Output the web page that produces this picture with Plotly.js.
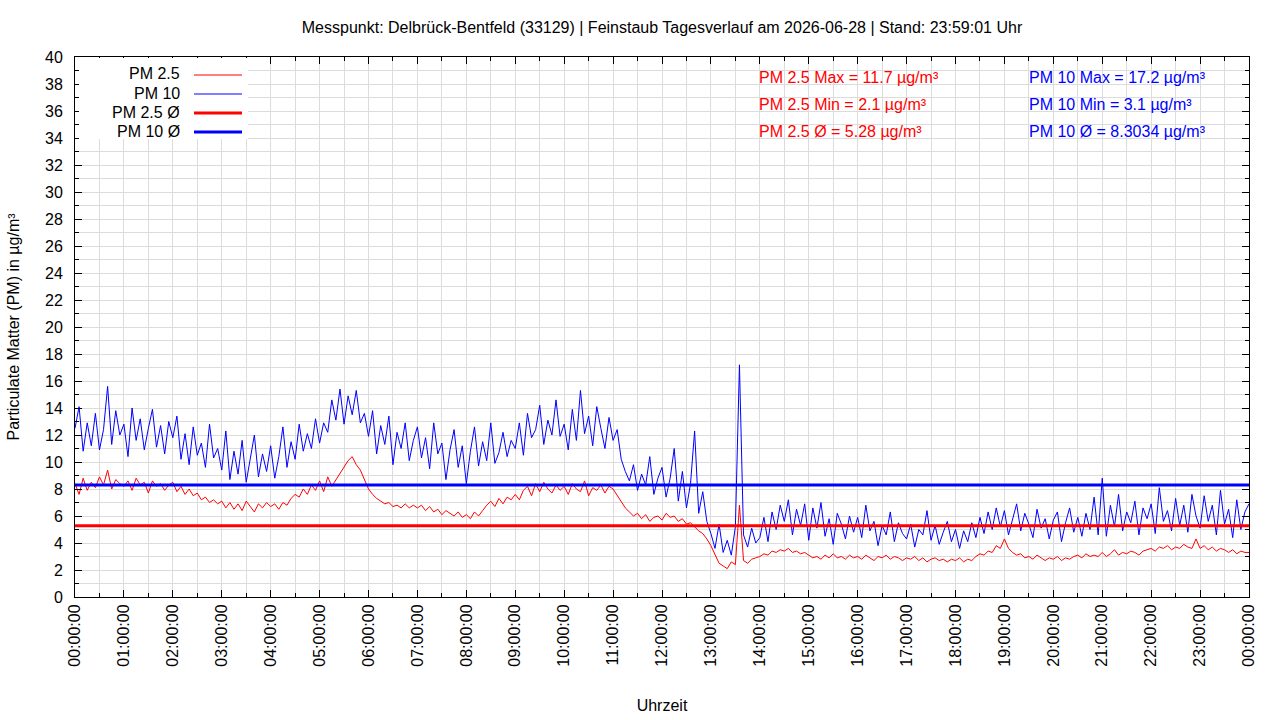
<!DOCTYPE html>
<html>
<head>
<meta charset="utf-8">
<script src="https://cdn.plot.ly/plotly-3.0.1.min.js"></script>
<style>
	html, body { margin: 0; padding: 0; background: #fff; }
	#graph { width: 1280px; height: 720px; }
</style>
</head>
<body>
<div id="graph"></div>
<script>
const DAY = "2026-06-28";
const STEP_MIN = 5;

// PM 2.5, one row per hour, 5-minute values (plus the 24:00 value)
const pm25 = [
	8.4, 7.6, 8.8, 7.9, 8.5, 8.1, 8.9, 8.3, 9.4, 8.0, 8.7, 8.4,
	8.2, 8.6, 7.9, 8.8, 8.3, 8.5, 7.7, 8.6, 8.2, 8.4, 7.9, 8.3,
	8.5, 7.8, 8.2, 7.6, 8.0, 7.5, 7.7, 7.2, 7.4, 7.0, 7.2, 6.9,
	7.1, 6.6, 7.0, 6.5, 6.9, 6.4, 7.1, 6.7, 6.3, 6.9, 6.6, 7.0,
	6.7, 6.9, 6.5, 7.0, 6.8, 7.3, 7.6, 7.4, 8.0, 7.6, 8.3, 7.9,
	8.6, 7.8, 8.9, 8.2, 8.7, 9.1, 9.6, 10.1, 10.4, 9.8, 9.4, 8.7,
	8.0, 7.6, 7.3, 7.1, 6.9, 7.0, 6.7, 6.8, 6.6, 6.9, 6.6, 6.8,
	6.6, 6.8, 6.4, 6.7, 6.3, 6.5, 6.1, 6.4, 6.2, 6.0, 6.3, 5.9,
	6.1, 5.8, 6.3, 6.0, 6.4, 6.8, 7.1, 6.7, 7.3, 6.9, 7.4, 7.2,
	7.6, 7.2, 7.9, 8.2, 7.5, 8.4, 7.8, 8.5, 8.0, 7.7, 8.3, 7.9,
	8.2, 7.6, 8.4, 8.0, 7.8, 8.6, 7.5, 8.1, 7.9, 8.3, 7.7, 8.2,
	8.0, 7.5, 7.1, 6.6, 6.3, 6.0, 6.2, 5.8, 6.1, 5.6, 5.9, 6.0,
	5.7, 6.2, 5.9, 6.0, 5.6, 5.8, 5.4, 5.5, 5.2, 4.9, 4.7, 4.3,
	3.8, 3.1, 2.5, 2.3, 2.1, 2.6, 2.4, 6.8, 2.7, 2.5, 2.8, 2.9,
	3.0, 3.2, 3.1, 3.4, 3.3, 3.5, 3.4, 3.6, 3.3, 3.4, 3.2, 3.3,
	3.1, 2.9, 3.0, 2.8, 3.1, 2.9, 3.2, 2.9, 3.0, 2.8, 3.1, 2.9,
	3.0, 2.8, 3.1, 2.9, 2.7, 3.0, 2.9, 3.1, 2.8, 3.0, 2.9, 2.7,
	2.9, 2.8, 3.0, 2.7, 2.9, 2.6, 2.8, 2.9, 2.7, 2.8, 2.6, 2.8,
	2.7, 2.9, 2.6, 2.8, 2.7, 3.0, 3.2, 3.1, 3.4, 3.3, 3.8, 3.6,
	4.3, 3.6, 3.3, 3.1, 3.2, 2.9, 3.0, 2.8, 3.1, 2.9, 2.7, 2.9,
	2.8, 3.0, 2.7, 2.9, 2.8, 3.0, 3.1, 2.9, 3.2, 3.0, 3.1, 3.0,
	3.3, 3.0, 3.2, 3.5, 3.1, 3.3, 3.2, 3.4, 3.3, 3.1, 3.4, 3.5,
	3.6, 3.4, 3.7, 3.6, 3.8, 3.5, 3.7, 3.6, 3.9, 3.7, 3.6, 4.3,
	3.6, 3.8, 3.5, 3.7, 3.4, 3.6, 3.5, 3.3, 3.5, 3.2, 3.4, 3.3,
	3.3,
];

// PM 10, same layout
const pm10 = [
	12.5, 14.1, 10.8, 12.9, 11.2, 13.6, 10.9, 12.4, 15.6, 11.3, 13.8, 12.0,
	12.8, 10.4, 14.0, 11.6, 13.2, 10.9, 12.5, 13.9, 11.1, 12.7, 10.6, 13.0,
	11.8, 13.4, 10.2, 12.1, 9.8, 12.6, 10.5, 11.4, 9.6, 12.8, 10.3, 11.0,
	9.4, 12.3, 8.7, 10.8, 9.1, 11.6, 8.5, 10.2, 12.0, 8.9, 10.6, 9.3,
	11.2, 8.8, 10.4, 12.6, 9.6, 11.5, 10.2, 12.8, 10.8, 12.1, 11.0, 13.2,
	11.4, 12.9, 12.2, 14.6, 13.1, 15.4, 12.8, 14.9, 13.5, 15.3, 12.9, 13.6,
	11.9, 13.8, 10.6, 12.7, 11.3, 13.4, 9.8, 12.2, 11.0, 12.9, 10.1, 11.6,
	12.6, 10.3, 11.8, 9.5, 12.9, 10.6, 11.4, 8.7, 10.9, 12.4, 9.6, 11.2,
	8.4, 10.8, 12.6, 9.7, 11.5, 10.1, 12.9, 9.9, 10.7, 12.2, 10.4, 11.6,
	11.0, 12.9, 10.5, 13.6, 11.8, 12.4, 14.2, 11.3, 13.1, 12.0, 14.6, 11.9,
	12.8, 10.9, 13.9, 11.6, 15.3, 12.1, 13.4, 11.2, 14.1, 12.5, 11.0, 13.3,
	11.6, 12.4, 10.2, 9.3, 8.6, 9.8, 7.9, 9.1, 8.3, 10.4, 7.6, 8.8,
	9.6, 7.4, 8.8, 11.0, 7.1, 9.3, 6.6, 8.4, 12.3, 6.2, 7.8, 5.6,
	4.7, 3.6, 5.4, 3.3, 4.2, 3.1, 5.2, 17.2, 4.6, 3.7, 5.1, 4.0,
	4.4, 5.9, 4.1, 6.3, 5.0, 6.8, 5.6, 7.2, 4.6, 6.5, 5.3, 6.9,
	4.2, 6.6, 5.1, 7.0, 4.5, 5.8, 3.9, 6.2, 5.4, 4.3, 6.0, 4.8,
	5.9, 4.4, 6.8, 4.9, 5.6, 3.8, 5.3, 4.6, 6.3, 4.1, 5.5, 4.7,
	4.3, 5.4, 3.7, 5.0, 4.6, 6.4, 4.2, 5.3, 3.9, 4.8, 5.6, 4.1,
	5.0, 3.6, 4.9, 4.1, 5.5, 4.4, 5.9, 4.7, 6.3, 5.0, 6.6, 5.2,
	6.4, 4.6, 5.8, 6.9, 4.9, 6.2, 5.4, 4.4, 6.5, 5.1, 5.8, 4.3,
	5.7, 6.3, 4.1, 5.5, 6.6, 4.8, 5.9, 4.5, 6.2, 5.0, 7.4, 4.6,
	8.8, 4.5, 6.8, 5.2, 7.6, 4.9, 6.3, 5.5, 7.1, 4.6, 6.6, 5.8,
	6.9, 4.7, 8.1, 5.6, 6.4, 4.9, 7.3, 5.3, 6.8, 4.8, 7.6, 6.0,
	5.1, 7.5, 5.6, 6.8, 4.6, 7.9, 5.4, 6.5, 4.4, 7.2, 5.0, 6.3,
	6.9,
];

// daily statistics as printed on the chart
const statLabels = ["Max", "Min", "Ø"];
const pm25Stats = ["11.7", "2.1", "5.28"];
const pm10Stats = ["17.2", "3.1", "8.3034"];
const pm25Mean = 5.28;
const pm10Mean = 8.3034;

const RED = "#ff0000";
const BLUE = "#0000ff";
const GRID = "#dcdcdc";
const FONT = "Liberation Sans, Arial, sans-serif";

function timeAt(i) {
	const d = new Date(Date.UTC(2026, 5, 28, 0, i * STEP_MIN, 0));
	return d.toISOString().replace("T", " ").slice(0, 19);
}

const times = pm25.map((_, i) => timeAt(i));
const dayStart = DAY + " 00:00:00";
const dayEnd = timeAt(24 * 60 / STEP_MIN);

const traces = [
	{ x: times, y: pm25, type: "scatter", mode: "lines", line: { color: RED, width: 1 } },
	{ x: times, y: pm10, type: "scatter", mode: "lines", line: { color: BLUE, width: 1 } },
	{ x: [dayStart, dayEnd], y: [pm25Mean, pm25Mean], type: "scatter", mode: "lines", line: { color: RED, width: 3 } },
	{ x: [dayStart, dayEnd], y: [pm10Mean, pm10Mean], type: "scatter", mode: "lines", line: { color: BLUE, width: 3 } },
];

// paper coords from plot pixels (plot box 75..1249 x 57..597)
const px = p => (p - 75) / 1174;
const py = p => (597 - p) / 540;

const annotations = [];
const shapes = [];

// legend, drawn the gnuplot way: label right-aligned, sample on the right
shapes.push({
	type: "rect", xref: "paper", yref: "paper",
	x0: px(79), x1: px(248), y0: py(139), y1: py(58),
	fillcolor: "#fff", line: { width: 0 }, layer: "above",
});
const legendNames = ["PM 2.5", "PM 10", "PM 2.5 Ø", "PM 10 Ø"];
const legendColors = [RED, BLUE, RED, BLUE];
const legendWidths = [1, 1, 3, 3];
const legendRows = [74, 93, 112, 131];
legendNames.forEach((name, i) => {
	annotations.push({
		xref: "paper", yref: "paper", x: px(182), y: py(legendRows[i]),
		xanchor: "right", yanchor: "middle", showarrow: false, text: name,
		font: { family: FONT, size: 16, color: "#000" },
	});
	shapes.push({
		type: "line", xref: "paper", yref: "paper",
		x0: px(194), x1: px(242), y0: py(legendRows[i] + 1), y1: py(legendRows[i] + 1),
		line: { color: legendColors[i], width: legendWidths[i] }, layer: "above",
	});
});

// statistics text
const statRows = [77, 104, 131];
statLabels.forEach((lab, i) => {
	annotations.push({
		xref: "paper", yref: "paper", x: px(757), y: py(statRows[i]),
		xanchor: "left", yanchor: "middle", showarrow: false,
		text: "PM 2.5 " + lab + " = " + pm25Stats[i] + " µg/m³",
		font: { family: FONT, size: 16, color: RED },
	});
	annotations.push({
		xref: "paper", yref: "paper", x: px(1027), y: py(statRows[i]),
		xanchor: "left", yanchor: "middle", showarrow: false,
		text: "PM 10 " + lab + " = " + pm10Stats[i] + " µg/m³",
		font: { family: FONT, size: 16, color: BLUE },
	});
});

const layout = {
	width: 1280,
	height: 720,
	margin: { l: 75, r: 31, t: 57, b: 123 },
	paper_bgcolor: "#fff",
	plot_bgcolor: "#fff",
	showlegend: false,
	font: { family: FONT, size: 16, color: "#000" },
	title: {
		text: "Messpunkt: Delbrück-Bentfeld (33129) | Feinstaub Tagesverlauf am 2026-06-28 | Stand: 23:59:01 Uhr",
		font: { family: FONT, size: 16, color: "#000" },
		x: 0.5, xref: "paper", y: 1 - 27 / 720, yanchor: "middle",
	},
	xaxis: {
		type: "date",
		range: [dayStart, dayEnd],
		tick0: dayStart,
		dtick: 3600000,
		tickformat: "%H:%M:%S",
		tickangle: -90,
		ticks: "inside",
		ticklen: 7,
		tickcolor: "#000",
		tickfont: { family: FONT, size: 16, color: "#000" },
		showgrid: true,
		gridcolor: GRID,
		gridwidth: 1,
		minor: { dtick: 1800000, ticks: "inside", ticklen: 4, tickcolor: "#000", showgrid: true, gridcolor: GRID },
		showline: true,
		linecolor: "#000",
		linewidth: 1,
		mirror: "ticks",
		zeroline: false,
		automargin: false,
		title: { text: "Uhrzeit", font: { family: FONT, size: 16, color: "#000" }, standoff: 34 },
	},
	yaxis: {
		range: [0, 40],
		dtick: 2,
		ticks: "inside",
		ticklen: 7,
		tickcolor: "#000",
		tickfont: { family: FONT, size: 16, color: "#000" },
		ticklabelstandoff: 8,
		showgrid: true,
		gridcolor: GRID,
		gridwidth: 1,
		minor: { dtick: 1, ticks: "inside", ticklen: 4, tickcolor: "#000", showgrid: true, gridcolor: GRID },
		showline: true,
		linecolor: "#000",
		linewidth: 1,
		mirror: "ticks",
		zeroline: false,
		automargin: false,
		title: { text: "Particulate Matter (PM) in µg/m³", font: { family: FONT, size: 16, color: "#000" }, standoff: 21 },
	},
	annotations: annotations,
	shapes: shapes,
};

Plotly.newPlot("graph", traces, layout, { displayModeBar: false, staticPlot: true });
</script>
</body>
</html>
